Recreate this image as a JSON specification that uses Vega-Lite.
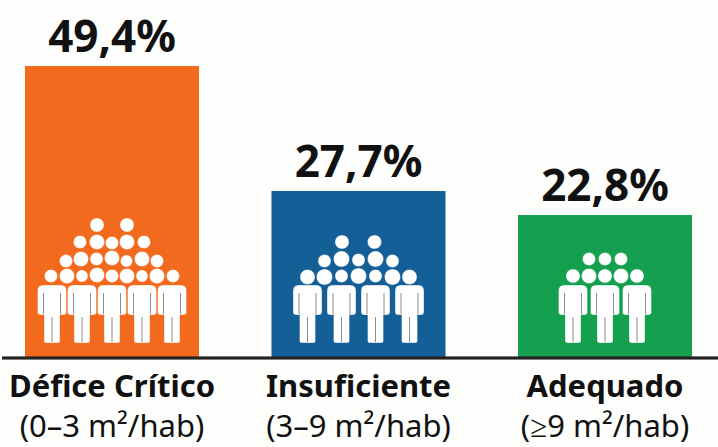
{"$schema":"https://vega.github.io/schema/vega-lite/v6.json","width":718,"height":447,"padding":0,"autosize":{"type":"fit","contains":"padding"},"background":"#FEFEFD","view":{"stroke":null},
"data":{"values":[
{"categoria":"Défice Crítico","faixa":"(0–3 m²/hab)","rotulo":"49,4%","altura":49.4},
{"categoria":"Insuficiente","faixa":"(3–9 m²/hab)","rotulo":"27,7%","altura":28.26},
{"categoria":"Adequado","faixa":"(≥9 m²/hab)","rotulo":"22,8%","altura":24.2}]},
"encoding":{"x":{"field":"categoria","type":"nominal","sort":null,"axis":null,"scale":{"type":"band","range":[-13.25,726.25],"paddingInner":0.294,"paddingOuter":0.147}}},
"resolve":{"scale":{"shape":"independent"}},
"layer":[
{"mark":{"type":"bar"},"encoding":{"y":{"field":"altura","type":"quantitative","axis":null,"scale":{"domain":[-15.06,60.57],"nice":false,"zero":false}},"y2":{"datum":0},"color":{"field":"categoria","type":"nominal","legend":null,"scale":{"domain":["Défice Crítico","Insuficiente","Adequado"],"range":["#F26A1E","#155F99","#15A04F"]}}}},
{"mark":{"type":"point","filled":true,"size":4,"fill":"#FFFFFF","fillOpacity":1,"strokeWidth":0.4,"opacity":1},"encoding":{"y":{"datum":0.17},
"stroke":{"field":"categoria","type":"nominal","legend":null,"scale":{"domain":["Défice Crítico","Insuficiente","Adequado"],"range":["#F26A1E","#155F99","#15A04F"]}},
"shape":{"field":"categoria","type":"nominal","legend":null,"scale":{"domain":["Défice Crítico","Insuficiente","Adequado"],"range":[
"M-22,-132a7,7 0 1,0 14,0a7,7 0 1,0 -14,0z M8,-132a7,7 0 1,0 14,0a7,7 0 1,0 -14,0z M-38.5,-115a6.5,6.5 0 1,0 13,0a6.5,6.5 0 1,0 -13,0z M-22.5,-115a7.5,7.5 0 1,0 15,0a7.5,7.5 0 1,0 -15,0z M-6.5,-114a6.5,6.5 0 1,0 13,0a6.5,6.5 0 1,0 -13,0z M7.5,-115a7.5,7.5 0 1,0 15,0a7.5,7.5 0 1,0 -15,0z M25.5,-115a6.5,6.5 0 1,0 13,0a6.5,6.5 0 1,0 -13,0z M-52.5,-96a6.5,6.5 0 1,0 13,0a6.5,6.5 0 1,0 -13,0z M-38.5,-98a7.5,7.5 0 1,0 15,0a7.5,7.5 0 1,0 -15,0z M-22,-98a6.5,6.5 0 1,0 13,0a6.5,6.5 0 1,0 -13,0z M-7.5,-99a7.5,7.5 0 1,0 15,0a7.5,7.5 0 1,0 -15,0z M8.5,-96a6,6 0 1,0 12,0a6,6 0 1,0 -12,0z M22.5,-98a7.5,7.5 0 1,0 15,0a7.5,7.5 0 1,0 -15,0z M38.5,-96a6.5,6.5 0 1,0 13,0a6.5,6.5 0 1,0 -13,0z M-67.5,-81a6.5,6.5 0 1,0 13,0a6.5,6.5 0 1,0 -13,0z M-52.5,-81a7.5,7.5 0 1,0 15,0a7.5,7.5 0 1,0 -15,0z M-36,-81a6,6 0 1,0 12,0a6,6 0 1,0 -12,0z M-22.5,-82a7.5,7.5 0 1,0 15,0a7.5,7.5 0 1,0 -15,0z M-6.5,-81a6.5,6.5 0 1,0 13,0a6.5,6.5 0 1,0 -13,0z M7.5,-81a7.5,7.5 0 1,0 15,0a7.5,7.5 0 1,0 -15,0z M24,-81a6,6 0 1,0 12,0a6,6 0 1,0 -12,0z M37.5,-81a7.5,7.5 0 1,0 15,0a7.5,7.5 0 1,0 -15,0z M54.5,-81a6.5,6.5 0 1,0 13,0a6.5,6.5 0 1,0 -13,0z M-69,-72h18q5.5,0 5.5,6v21q0,3 -3,3h-3.5v26q0,2 -2,2h-12q-2,0 -2,-2v-26h-3.5q-3,0 -3,-3v-21q0,-6 5.5,-6z M-39,-72h18q5.5,0 5.5,6v21q0,3 -3,3h-3.5v26q0,2 -2,2h-12q-2,0 -2,-2v-26h-3.5q-3,0 -3,-3v-21q0,-6 5.5,-6z M-9,-72h18q5.5,0 5.5,6v21q0,3 -3,3h-3.5v26q0,2 -2,2h-12q-2,0 -2,-2v-26h-3.5q-3,0 -3,-3v-21q0,-6 5.5,-6z M21,-72h18q5.5,0 5.5,6v21q0,3 -3,3h-3.5v26q0,2 -2,2h-12q-2,0 -2,-2v-26h-3.5q-3,0 -3,-3v-21q0,-6 5.5,-6z M51,-72h18q5.5,0 5.5,6v21q0,3 -3,3h-3.5v26q0,2 -2,2h-12q-2,0 -2,-2v-26h-3.5q-3,0 -3,-3v-21q0,-6 5.5,-6z",
"M-23.5,-115a7,7 0 1,0 14,0a7,7 0 1,0 -14,0z M9,-115a7,7 0 1,0 14,0a7,7 0 1,0 -14,0z M-40.5,-96a6.5,6.5 0 1,0 13,0a6.5,6.5 0 1,0 -13,0z M-25,-98a8,8 0 1,0 16,0a8,8 0 1,0 -16,0z M-6.5,-97a6.5,6.5 0 1,0 13,0a6.5,6.5 0 1,0 -13,0z M9,-98a8,8 0 1,0 16,0a8,8 0 1,0 -16,0z M27.5,-96a6.5,6.5 0 1,0 13,0a6.5,6.5 0 1,0 -13,0z M-58.5,-80a7.5,7.5 0 1,0 15,0a7.5,7.5 0 1,0 -15,0z M-42,-80a8,8 0 1,0 16,0a8,8 0 1,0 -16,0z M-23.5,-81a6.5,6.5 0 1,0 13,0a6.5,6.5 0 1,0 -13,0z M-8,-81a8,8 0 1,0 16,0a8,8 0 1,0 -16,0z M10.5,-81a6.5,6.5 0 1,0 13,0a6.5,6.5 0 1,0 -13,0z M26,-80a8,8 0 1,0 16,0a8,8 0 1,0 -16,0z M43.5,-80a7.5,7.5 0 1,0 15,0a7.5,7.5 0 1,0 -15,0z M-60,-72h18q5.5,0 5.5,6v21q0,3 -3,3h-3.5v26q0,2 -2,2h-12q-2,0 -2,-2v-26h-3.5q-3,0 -3,-3v-21q0,-6 5.5,-6z M-26,-72h18q5.5,0 5.5,6v21q0,3 -3,3h-3.5v26q0,2 -2,2h-12q-2,0 -2,-2v-26h-3.5q-3,0 -3,-3v-21q0,-6 5.5,-6z M8,-72h18q5.5,0 5.5,6v21q0,3 -3,3h-3.5v26q0,2 -2,2h-12q-2,0 -2,-2v-26h-3.5q-3,0 -3,-3v-21q0,-6 5.5,-6z M42,-72h18q5.5,0 5.5,6v21q0,3 -3,3h-3.5v26q0,2 -2,2h-12q-2,0 -2,-2v-26h-3.5q-3,0 -3,-3v-21q0,-6 5.5,-6z",
"M-22.5,-98a6.5,6.5 0 1,0 13,0a6.5,6.5 0 1,0 -13,0z M-6.5,-98a6.5,6.5 0 1,0 13,0a6.5,6.5 0 1,0 -13,0z M9.5,-98a6.5,6.5 0 1,0 13,0a6.5,6.5 0 1,0 -13,0z M-39,-81a7,7 0 1,0 14,0a7,7 0 1,0 -14,0z M-23.5,-81a7.5,7.5 0 1,0 15,0a7.5,7.5 0 1,0 -15,0z M-7,-81a7,7 0 1,0 14,0a7,7 0 1,0 -14,0z M8.5,-81a7.5,7.5 0 1,0 15,0a7.5,7.5 0 1,0 -15,0z M25,-81a7,7 0 1,0 14,0a7,7 0 1,0 -14,0z M-41,-72h18q5.5,0 5.5,6v21q0,3 -3,3h-3.5v26q0,2 -2,2h-12q-2,0 -2,-2v-26h-3.5q-3,0 -3,-3v-21q0,-6 5.5,-6z M-9,-72h18q5.5,0 5.5,6v21q0,3 -3,3h-3.5v26q0,2 -2,2h-12q-2,0 -2,-2v-26h-3.5q-3,0 -3,-3v-21q0,-6 5.5,-6z M23,-72h18q5.5,0 5.5,6v21q0,3 -3,3h-3.5v26q0,2 -2,2h-12q-2,0 -2,-2v-26h-3.5q-3,0 -3,-3v-21q0,-6 5.5,-6z"
]}}}},
{"mark":{"type":"point","filled":false,"size":4,"stroke":"#8C8C8C","strokeWidth":1,"opacity":1},"encoding":{"y":{"datum":0.17},
"shape":{"field":"categoria","type":"nominal","legend":null,"scale":{"domain":["Défice Crítico","Insuficiente","Adequado"],"range":[
"M-68.5,-64V-43 M-51.5,-64V-43 M-60,-40V-15 M-38.5,-64V-43 M-21.5,-64V-43 M-30,-40V-15 M-8.5,-64V-43 M8.5,-64V-43 M0,-40V-15 M21.5,-64V-43 M38.5,-64V-43 M30,-40V-15 M51.5,-64V-43 M68.5,-64V-43 M60,-40V-15",
"M-59.5,-64V-43 M-42.5,-64V-43 M-51,-40V-15 M-25.5,-64V-43 M-8.5,-64V-43 M-17,-40V-15 M8.5,-64V-43 M25.5,-64V-43 M17,-40V-15 M42.5,-64V-43 M59.5,-64V-43 M51,-40V-15",
"M-40.5,-64V-43 M-23.5,-64V-43 M-32,-40V-15 M-8.5,-64V-43 M8.5,-64V-43 M0,-40V-15 M23.5,-64V-43 M40.5,-64V-43 M32,-40V-15"
]}}}},
{"mark":{"type":"rule","color":"#222222","strokeWidth":2.5},"encoding":{"x":{"value":0},"x2":{"value":718},"y":{"datum":0}}},
{"mark":{"type":"text","font":"Noto Sans","fontWeight":"bold","fontSize":44,"color":"#111111","baseline":"alphabetic","align":"center","dy":-14},"encoding":{"y":{"field":"altura","type":"quantitative"},"text":{"field":"rotulo"}}},
{"mark":{"type":"text","font":"Noto Sans","fontWeight":"bold","fontSize":31,"color":"#111111","baseline":"alphabetic","align":"center","dy":39},"encoding":{"y":{"datum":0},"text":{"field":"categoria"}}},
{"mark":{"type":"text","font":"Noto Sans","fontSize":31,"color":"#111111","baseline":"alphabetic","align":"center","dy":79},"encoding":{"y":{"datum":0},"text":{"field":"faixa"}}}
]}
